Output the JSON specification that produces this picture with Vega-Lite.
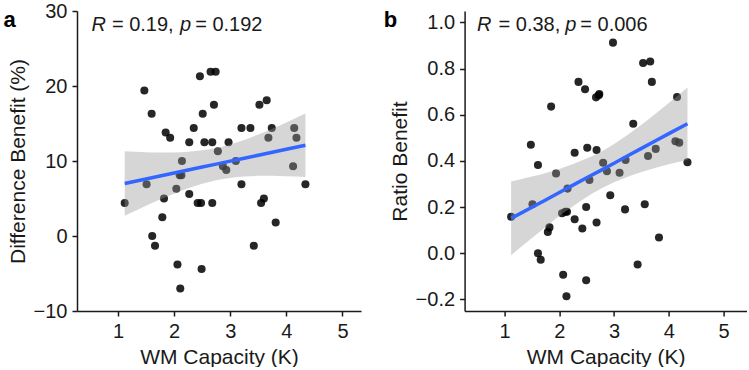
{
  "$schema": "https://vega.github.io/schema/vega-lite/v6.json",
  "padding": {"left": 3, "top": 1, "right": 0, "bottom": 0},
  "background": "white",
  "bounds": "flush",
  "spacing": 103.6,
  "config": {
    "view": {"stroke": null},
    "font": "Liberation Sans",
    "axis": {
      "domainColor": "#1a1a1a", "domainWidth": 1.5,
      "tickColor": "#1a1a1a", "tickWidth": 1.5, "tickSize": 5,
      "labelFontSize": 20, "labelColor": "#1a1a1a", "labelPadding": 5,
      "titleFontSize": 21, "titleFontWeight": "normal", "titleColor": "#1a1a1a", "titlePadding": 5,
      "grid": false
    }
  },
  "datasets": {
    "one": [{"n": 1}],
    "diff": [
      {"k":1.12,"y":4.4},{"k":1.47,"y":19.4},{"k":1.51,"y":6.9},{"k":1.60,"y":16.3},{"k":1.61,"y":0.0},
      {"k":1.66,"y":-1.3},{"k":1.79,"y":2.5},{"k":1.82,"y":5.0},{"k":1.85,"y":13.8},{"k":1.93,"y":13.1},
      {"k":2.04,"y":6.3},{"k":2.06,"y":-3.8},{"k":2.10,"y":8.1},{"k":2.13,"y":8.1},{"k":2.11,"y":-7.0},
      {"k":2.14,"y":10.0},{"k":2.27,"y":5.6},{"k":2.27,"y":12.5},{"k":2.35,"y":14.4},{"k":2.42,"y":4.4},
      {"k":2.46,"y":21.3},{"k":2.48,"y":4.4},{"k":2.49,"y":-4.4},{"k":2.51,"y":16.3},{"k":2.54,"y":12.5},
      {"k":2.65,"y":21.9},{"k":2.68,"y":12.5},{"k":2.68,"y":4.4},{"k":2.71,"y":17.5},{"k":2.74,"y":21.9},
      {"k":2.78,"y":11.3},{"k":2.87,"y":9.3},{"k":2.93,"y":8.8},{"k":2.97,"y":12.5},{"k":3.10,"y":10.0},
      {"k":3.20,"y":14.4},{"k":3.20,"y":6.9},{"k":3.36,"y":14.4},{"k":3.42,"y":-1.3},{"k":3.52,"y":17.5},
      {"k":3.55,"y":4.4},{"k":3.60,"y":5.0},{"k":3.65,"y":18.1},{"k":3.68,"y":13.1},{"k":3.74,"y":14.4},
      {"k":3.81,"y":1.8},{"k":4.12,"y":9.3},{"k":4.14,"y":14.4},{"k":4.18,"y":13.1},{"k":4.34,"y":6.9}
    ],
    "ratio": [
      {"k":1.12,"y":0.158},{"k":1.48,"y":0.47},{"k":1.51,"y":0.212},{"k":1.61,"y":0.382},{"k":1.61,"y":0.0},
      {"k":1.66,"y":-0.028},{"k":1.79,"y":0.092},{"k":1.82,"y":0.112},{"k":1.85,"y":0.635},{"k":1.94,"y":0.345},
      {"k":2.05,"y":0.173},{"k":2.07,"y":-0.093},{"k":2.11,"y":0.18},{"k":2.14,"y":0.18},{"k":2.13,"y":-0.186},
      {"k":2.15,"y":0.28},{"k":2.28,"y":0.147},{"k":2.28,"y":0.435},{"k":2.35,"y":0.742},{"k":2.42,"y":0.107},
      {"k":2.47,"y":0.71},{"k":2.49,"y":0.2},{"k":2.49,"y":-0.117},{"k":2.51,"y":0.457},{"k":2.55,"y":0.317},
      {"k":2.67,"y":0.675},{"k":2.68,"y":0.447},{"k":2.68,"y":0.133},{"k":2.72,"y":0.684},{"k":2.73,"y":0.69},
      {"k":2.80,"y":0.392},{"k":2.87,"y":0.355},{"k":2.93,"y":0.251},{"k":2.98,"y":0.912},{"k":3.10,"y":0.349},
      {"k":3.20,"y":0.19},{"k":3.21,"y":0.404},{"k":3.35,"y":0.561},{"k":3.43,"y":-0.049},{"k":3.53,"y":0.824},
      {"k":3.56,"y":0.212},{"k":3.62,"y":0.421},{"k":3.66,"y":0.83},{"k":3.69,"y":0.742},{"k":3.76,"y":0.452},
      {"k":3.82,"y":0.068},{"k":4.12,"y":0.485},{"k":4.15,"y":0.677},{"k":4.19,"y":0.479},{"k":4.34,"y":0.394}
    ],
    "fitA": [
      {"k":1.12,"fit":7.00,"lo":2.70,"hi":11.30},
      {"k":1.5,"fit":7.60,"lo":4.02,"hi":11.18},
      {"k":1.75,"fit":8.00,"lo":4.86,"hi":11.14},
      {"k":2.0,"fit":8.39,"lo":5.64,"hi":11.14},
      {"k":2.25,"fit":8.79,"lo":6.36,"hi":11.22},
      {"k":2.5,"fit":9.19,"lo":6.96,"hi":11.42},
      {"k":2.75,"fit":9.58,"lo":7.43,"hi":11.73},
      {"k":3.0,"fit":9.98,"lo":7.75,"hi":12.21},
      {"k":3.25,"fit":10.37,"lo":7.94,"hi":12.80},
      {"k":3.5,"fit":10.77,"lo":8.02,"hi":13.52},
      {"k":3.75,"fit":11.17,"lo":8.03,"hi":14.31},
      {"k":4.0,"fit":11.56,"lo":7.98,"hi":15.14},
      {"k":4.34,"fit":12.10,"lo":7.88,"hi":16.32}
    ],
    "fitB": [
      {"k":1.12,"fit":0.151,"lo":-0.009,"hi":0.311},
      {"k":1.5,"fit":0.199,"lo":0.066,"hi":0.332},
      {"k":1.75,"fit":0.231,"lo":0.114,"hi":0.348},
      {"k":2.0,"fit":0.263,"lo":0.161,"hi":0.365},
      {"k":2.25,"fit":0.295,"lo":0.204,"hi":0.386},
      {"k":2.5,"fit":0.327,"lo":0.244,"hi":0.410},
      {"k":2.75,"fit":0.358,"lo":0.278,"hi":0.438},
      {"k":3.0,"fit":0.390,"lo":0.307,"hi":0.473},
      {"k":3.25,"fit":0.422,"lo":0.331,"hi":0.513},
      {"k":3.5,"fit":0.454,"lo":0.352,"hi":0.556},
      {"k":3.75,"fit":0.486,"lo":0.369,"hi":0.603},
      {"k":4.0,"fit":0.518,"lo":0.385,"hi":0.651},
      {"k":4.34,"fit":0.561,"lo":0.404,"hi":0.718}
    ]
  },
  "hconcat": [
    {
      "width": 284,
      "height": 300,
      "layer": [
        {
          "data": {"name": "diff"},
          "mark": {"type": "circle", "size": 65, "color": "#000000", "opacity": 0.85},
          "encoding": {
            "x": {"field": "k", "type": "quantitative", "scale": {"domain": [0.27, 5.33], "nice": false, "zero": false}, "axis": {"values": [1, 2, 3, 4, 5], "format": "d"}, "title": "WM Capacity (K)"},
            "y": {"field": "y", "type": "quantitative", "scale": {"domain": [-10, 30], "nice": false, "zero": false}, "axis": {"values": [-10, 0, 10, 20, 30], "format": "d"}, "title": "Difference Benefit (%)"}
          }
        },
        {
          "data": {"name": "fitA"},
          "mark": {"type": "area", "color": "#999999", "opacity": 0.4, "interpolate": "monotone"},
          "encoding": {
            "x": {"field": "k", "type": "quantitative", "scale": {"domain": [0.27, 5.33], "nice": false, "zero": false}, "title": "WM Capacity (K)"},
            "y": {"field": "lo", "type": "quantitative", "scale": {"domain": [-10, 30], "nice": false, "zero": false}, "title": "Difference Benefit (%)"},
            "y2": {"field": "hi"}
          }
        },
        {
          "data": {"name": "fitA"},
          "mark": {"type": "line", "color": "#3366FF", "strokeWidth": 3.5},
          "encoding": {
            "x": {"field": "k", "type": "quantitative", "scale": {"domain": [0.27, 5.33], "nice": false, "zero": false}, "title": "WM Capacity (K)"},
            "y": {"field": "fit", "type": "quantitative", "scale": {"domain": [-10, 30], "nice": false, "zero": false}, "title": "Difference Benefit (%)"}
          }
        },
        {
          "data": {"name": "one"},
          "mark": {"type": "text", "text": "R", "fontStyle": "italic", "fontSize": 20, "align": "left", "baseline": "middle", "color": "#1a1a1a"},
          "encoding": {"x": {"datum": 0.53, "type": "quantitative"}, "y": {"datum": 28.1, "type": "quantitative"}}
        },
        {
          "data": {"name": "one"},
          "mark": {"type": "text", "text": "= 0.19,", "fontSize": 20, "align": "left", "baseline": "middle", "color": "#1a1a1a", "dx": 20.3},
          "encoding": {"x": {"datum": 0.53, "type": "quantitative"}, "y": {"datum": 28.1, "type": "quantitative"}}
        },
        {
          "data": {"name": "one"},
          "mark": {"type": "text", "text": "p", "fontStyle": "italic", "fontSize": 20, "align": "left", "baseline": "middle", "color": "#1a1a1a", "dx": 88.3},
          "encoding": {"x": {"datum": 0.53, "type": "quantitative"}, "y": {"datum": 28.1, "type": "quantitative"}}
        },
        {
          "data": {"name": "one"},
          "mark": {"type": "text", "text": "= 0.192", "fontSize": 20, "align": "left", "baseline": "middle", "color": "#1a1a1a", "dx": 103.6},
          "encoding": {"x": {"datum": 0.53, "type": "quantitative"}, "y": {"datum": 28.1, "type": "quantitative"}}
        },
        {
          "data": {"name": "one"},
          "mark": {"type": "text", "text": "a", "fontWeight": "bold", "fontSize": 22, "align": "left", "baseline": "alphabetic", "color": "#000000"},
          "encoding": {"x": {"datum": -1.04, "type": "quantitative"}, "y": {"datum": 27.87, "type": "quantitative"}}
        }
      ]
    },
    {
      "width": 282,
      "height": 300,
      "layer": [
        {
          "data": {"name": "ratio"},
          "mark": {"type": "circle", "size": 65, "color": "#000000", "opacity": 0.85},
          "encoding": {
            "x": {"field": "k", "type": "quantitative", "scale": {"domain": [0.27, 5.42], "nice": false, "zero": false}, "axis": {"values": [1, 2, 3, 4, 5], "format": "d"}, "title": "WM Capacity (K)"},
            "y": {"field": "y", "type": "quantitative", "scale": {"domain": [-0.25, 1.049], "nice": false, "zero": false}, "axis": {"values": [-0.2, 0, 0.2, 0.4, 0.6, 0.8, 1.0], "format": ".1f"}, "title": "Ratio Benefit"}
          }
        },
        {
          "data": {"name": "fitB"},
          "mark": {"type": "area", "color": "#999999", "opacity": 0.4, "interpolate": "monotone"},
          "encoding": {
            "x": {"field": "k", "type": "quantitative", "scale": {"domain": [0.27, 5.42], "nice": false, "zero": false}, "title": "WM Capacity (K)"},
            "y": {"field": "lo", "type": "quantitative", "scale": {"domain": [-0.25, 1.049], "nice": false, "zero": false}, "title": "Ratio Benefit"},
            "y2": {"field": "hi"}
          }
        },
        {
          "data": {"name": "fitB"},
          "mark": {"type": "line", "color": "#3366FF", "strokeWidth": 3.5},
          "encoding": {
            "x": {"field": "k", "type": "quantitative", "scale": {"domain": [0.27, 5.42], "nice": false, "zero": false}, "title": "WM Capacity (K)"},
            "y": {"field": "fit", "type": "quantitative", "scale": {"domain": [-0.25, 1.049], "nice": false, "zero": false}, "title": "Ratio Benefit"}
          }
        },
        {
          "data": {"name": "one"},
          "mark": {"type": "text", "text": "R", "fontStyle": "italic", "fontSize": 20, "align": "left", "baseline": "middle", "color": "#1a1a1a"},
          "encoding": {"x": {"datum": 0.496, "type": "quantitative"}, "y": {"datum": 0.988, "type": "quantitative"}}
        },
        {
          "data": {"name": "one"},
          "mark": {"type": "text", "text": "= 0.38,", "fontSize": 20, "align": "left", "baseline": "middle", "color": "#1a1a1a", "dx": 21.6},
          "encoding": {"x": {"datum": 0.496, "type": "quantitative"}, "y": {"datum": 0.988, "type": "quantitative"}}
        },
        {
          "data": {"name": "one"},
          "mark": {"type": "text", "text": "p", "fontStyle": "italic", "fontSize": 20, "align": "left", "baseline": "middle", "color": "#1a1a1a", "dx": 88.3},
          "encoding": {"x": {"datum": 0.496, "type": "quantitative"}, "y": {"datum": 0.988, "type": "quantitative"}}
        },
        {
          "data": {"name": "one"},
          "mark": {"type": "text", "text": "= 0.006", "fontSize": 20, "align": "left", "baseline": "middle", "color": "#1a1a1a", "dx": 103.3},
          "encoding": {"x": {"datum": 0.496, "type": "quantitative"}, "y": {"datum": 0.988, "type": "quantitative"}}
        },
        {
          "data": {"name": "one"},
          "mark": {"type": "text", "text": "b", "fontWeight": "bold", "fontSize": 22, "align": "left", "baseline": "alphabetic", "color": "#000000"},
          "encoding": {"x": {"datum": -1.208, "type": "quantitative"}, "y": {"datum": 0.981, "type": "quantitative"}}
        }
      ]
    }
  ]
}
